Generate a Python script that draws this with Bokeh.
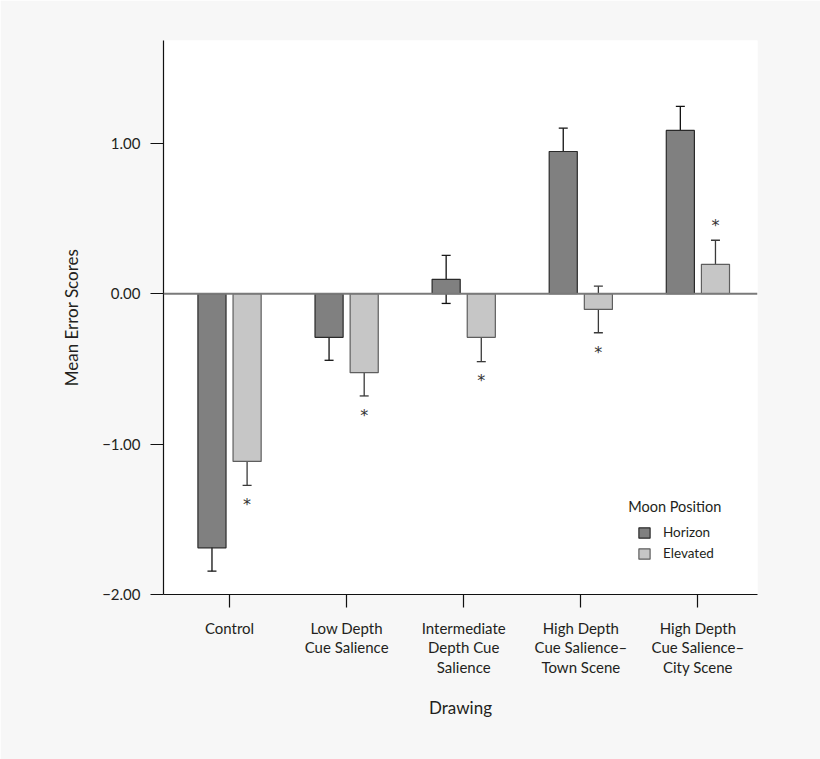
from bokeh.plotting import figure
from bokeh.models import (Range1d, FixedTicker, Whisker, ColumnDataSource, Span,
                          BoxAnnotation, Legend, LegendItem, Label, TeeHead)
from bokeh.transform import dodge
from bokeh.core.properties import value
from bokeh.embed import file_html
from bokeh.resources import INLINE

# ---- data ----
categories = ["Control", "Low Depth\nCue Salience", "Intermediate\nDepth Cue\nSalience",
              "High Depth\nCue Salience\u2013\nTown Scene", "High Depth\nCue Salience\u2013\nCity Scene"]
horizon_mean = [-1.69, -0.29, 0.095, 0.945, 1.085]
horizon_err = [0.155, 0.153, 0.16, 0.155, 0.16]
elevated_mean = [-1.115, -0.525, -0.29, -0.105, 0.195]
elevated_err = [0.16, 0.155, 0.162, 0.155, 0.16]
elevated_sig = [True, True, True, True, True]
y_ticks = [-2, -1, 0, 1]
y_tick_labels = ["\u22122.00", "\u22121.00", "0.00", "1.00"]
series_names = ["Horizon", "Elevated"]
legend_title = "Moon Position"

FONT = "Lato"
TXT = "#231f20"

xs = list(range(len(categories)))
src = ColumnDataSource(dict(
    x=xs,
    h=horizon_mean,
    h_lo=[m - e for m, e in zip(horizon_mean, horizon_err)],
    h_hi=[m + e for m, e in zip(horizon_mean, horizon_err)],
    e=elevated_mean,
    e_lo=[m - e for m, e in zip(elevated_mean, elevated_err)],
    e_hi=[m + e for m, e in zip(elevated_mean, elevated_err)],
))

star_x = [x for x, s in zip(xs, elevated_sig) if s]
star_y = [(m - e - 0.128) if m < 0 else (m + e + 0.10)
          for m, e, s in zip(elevated_mean, elevated_err, elevated_sig) if s]
star_src = ColumnDataSource(dict(x=star_x, y=star_y, t=["*"] * len(star_x)))

p = figure(width=820, height=759, output_backend="svg", toolbar_location=None,
           x_range=Range1d(-0.564, 4.509), y_range=Range1d(-2.0, 1.683),
           min_border_left=163, min_border_right=63, min_border_top=40, min_border_bottom=165)
p.border_fill_color = "#f7f7f7"
p.background_fill_color = "white"
p.outline_line_color = None
p.xgrid.visible = False
p.ygrid.visible = False

# white panel behind the chart
p.add_layout(BoxAnnotation(left=63, right=757, top=40, bottom=718,
                           left_units="canvas", right_units="canvas",
                           top_units="canvas", bottom_units="canvas",
                           fill_color="white", fill_alpha=1.0, line_alpha=0,
                           level="underlay"))

# zero reference line
p.add_layout(Span(location=0, dimension="width", line_color="#7a7a7a", line_width=2))

W = 0.24
OFF = 0.15
rh = p.vbar(x=dodge("x", -OFF, range=p.x_range), top="h", bottom=0, width=W, source=src,
            fill_color="#808080", line_color="#2a2a2a", line_width=1.2)
re = p.vbar(x=dodge("x", OFF, range=p.x_range), top="e", bottom=0, width=W, source=src,
            fill_color="#c6c6c6", line_color="#5e5e5e", line_width=1.2)

for base, lo, hi, col in [(dodge("x", -OFF, range=p.x_range), "h_lo", "h_hi", "#111111"),
                          (dodge("x", OFF, range=p.x_range), "e_lo", "e_hi", "#3a3a3a")]:
    w = Whisker(source=src, base=base, lower=lo, upper=hi, line_color=col, line_width=1.3,
                upper_head=TeeHead(size=9, line_color=col, line_width=1.3),
                lower_head=TeeHead(size=9, line_color=col, line_width=1.3))
    p.add_layout(w)

p.text(x=dodge("x", OFF, range=p.x_range), y="y", text="t", source=star_src,
       text_align="center", text_baseline="middle",
       text_font=value("DejaVu Sans"), text_font_size="16px", text_color="#333333")

# axes
xa = p.xaxis[0]
xa.ticker = FixedTicker(ticks=xs)
xa.major_label_overrides = {i: c for i, c in zip(xs, categories)}
xa.axis_label = "Drawing"
ya = p.yaxis[0]
ya.ticker = FixedTicker(ticks=y_ticks)
ya.major_label_overrides = {t: l for t, l in zip(y_ticks, y_tick_labels)}
ya.axis_label = "Mean Error Scores"

for ax in (xa, ya):
    ax.axis_line_color = "#111111"
    ax.axis_line_width = 1.2
    ax.major_tick_line_color = "#111111"
    ax.major_tick_line_width = 1.2
    ax.major_tick_out = 13
    ax.major_tick_in = 0
    ax.minor_tick_line_color = None
    ax.major_label_text_font = FONT
    ax.major_label_text_font_size = "15px"
    ax.major_label_text_color = TXT
    ax.axis_label_text_font = FONT
    ax.axis_label_text_font_size = "17px"
    ax.axis_label_text_font_style = "normal"
    ax.axis_label_text_color = TXT

xa.major_label_standoff = 11
xa.major_label_text_line_height = 1.1
xa.axis_label_standoff = 18
ya.major_label_standoff = 10
ya.axis_label_standoff = 17

# legend
legend = Legend(items=[LegendItem(label=series_names[0], renderers=[rh]),
                       LegendItem(label=series_names[1], renderers=[re])],
                location=(474, 33), orientation="vertical",
                glyph_width=14, glyph_height=13, label_height=13, spacing=5,
                label_standoff=12, padding=0, margin=0,
                border_line_color=None, background_fill_alpha=0,
                label_text_font=FONT, label_text_font_size="13.5px", label_text_color=TXT)
p.add_layout(legend)
p.add_layout(Label(x=3.405, y=-1.413, text=legend_title, text_align="left",
                   text_baseline="middle", text_font=FONT, text_font_size="14.5px",
                   text_color=TXT))

open("out.html", "w").write(file_html(p, INLINE))
